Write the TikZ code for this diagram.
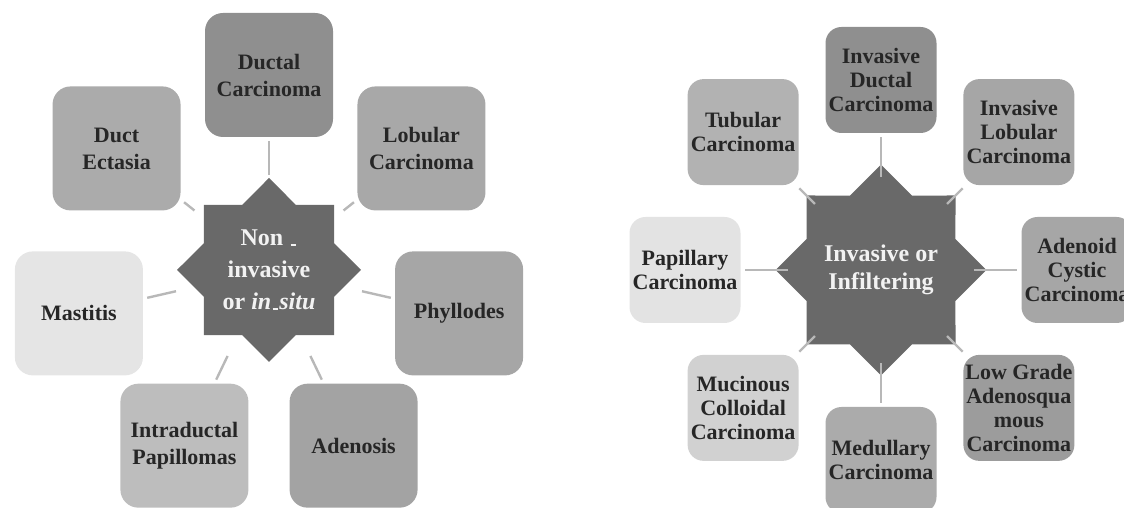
\documentclass[tikz,border=0pt]{standalone}
\usepackage{fontspec}
\setmainfont{Liberation Serif}
\usetikzlibrary{shapes.geometric}
\newcommand{\lowbar}{\kern0.6pt\rule{2.8pt}{1.1pt}\kern0.6pt}
\begin{document}
\begin{tikzpicture}[x=0.5pt, y=0.5pt,
		hubstar/.style = {star, star points=8, star point ratio=1.307, fill=black!59,
			inner sep=0pt, text=white!95!black, align=center, font=\bfseries\fontsize{12}{16}\selectfont},
		hubring/.style = {circle, inner sep=0pt},
		bigbox/.style = {rounded corners=9pt, minimum width=64pt, minimum height=62pt,
			inner sep=0pt, align=center, text=black!85, font=\bfseries\fontsize{11}{13.5}\selectfont},
		smallbox/.style = {rounded corners=8pt, minimum width=55.5pt, minimum height=53pt,
			inner sep=0pt, align=center, text=black!85, font=\bfseries\fontsize{11}{12}\selectfont},
		spoke/.style = {draw=black!28, line width=1.2pt, shorten >=2pt}]
	\useasboundingbox (0,0) rectangle (1124,508);
	% non invasive
	\begin{scope}[shift={(269,238)}]
		\node[hubstar, minimum size=92pt] (ni) at (0,0) {Non \lowbar\\invasive\\or \textit{in\lowbar situ}};
		\node[hubring, minimum size=95pt] (niring) at (0,0) {};
		\node[bigbox, fill=black!44] (dc) at (90:195) {Ductal\\Carcinoma};
		\node[bigbox, fill=black!33] (de) at (141.43:195) {Duct\\Ectasia};
		\node[bigbox, fill=black!34] (lc) at (38.57:195) {Lobular\\Carcinoma};
		\node[bigbox, fill=black!10] (ma) at (192.86:195) {Mastitis};
		\node[bigbox, fill=black!35] (ph) at (-12.86:195) {Phyllodes};
		\node[bigbox, fill=black!26] (ip) at (244.29:195) {Intraductal\\Papillomas};
		\node[bigbox, fill=black!36] (ad) at (-64.29:195) {Adenosis};
		\draw[spoke] (niring) -- (dc);
		\draw[spoke] (niring) -- (de);
		\draw[spoke] (niring) -- (lc);
		\draw[spoke] (niring) -- (ma);
		\draw[spoke] (niring) -- (ph);
		\draw[spoke] (niring) -- (ip);
		\draw[spoke] (niring) -- (ad);
	\end{scope}
	% invasive
	\begin{scope}[shift={(881,238)}]
		\node[hubstar, minimum size=89pt, font=\bfseries\fontsize{12}{14}\selectfont] (inv) at (0,0) {Invasive or\\Infiltering};
		\node[hubring, minimum size=93pt] (invring) at (0,0) {};
		\node[smallbox, fill=black!44] (idc) at (90:190) {Invasive\\Ductal\\Carcinoma};
		\node[smallbox, fill=black!30] (tc) at (135:195) {Tubular\\Carcinoma};
		\node[smallbox, fill=black!35] (ilc) at (45:195) {Invasive\\Lobular\\Carcinoma};
		\node[smallbox, fill=black!11] (pc) at (180:196) {Papillary\\Carcinoma};
		\node[smallbox, fill=black!35] (acc) at (0:196) {Adenoid\\Cystic\\Carcinoma};
		\node[smallbox, fill=black!18] (mcc) at (225:195) {Mucinous\\Colloidal\\Carcinoma};
		\node[smallbox, fill=black!39] (lga) at (-45:195) {Low Grade\\Adenosqua\\mous\\Carcinoma};
		\node[smallbox, fill=black!33] (mc) at (270:190) {Medullary\\Carcinoma};
		\draw[spoke] (invring) -- (idc);
		\draw[spoke] (invring) -- (tc);
		\draw[spoke] (invring) -- (ilc);
		\draw[spoke] (invring) -- (pc);
		\draw[spoke] (invring) -- (acc);
		\draw[spoke] (invring) -- (mcc);
		\draw[spoke] (invring) -- (lga);
		\draw[spoke] (invring) -- (mc);
	\end{scope}
\end{tikzpicture}
\end{document}
